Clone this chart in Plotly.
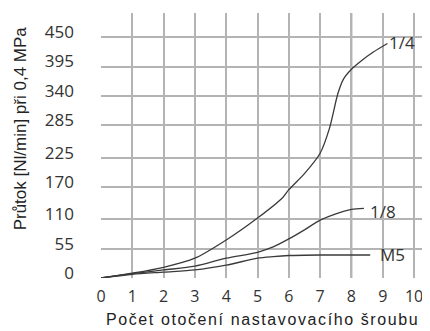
import plotly.graph_objects as go

# --- data ---
x_q14 = [0, 1, 2, 3, 4, 5, 5.8, 6, 6.5, 7, 7.3, 7.57, 7.75, 8, 8.3, 8.7, 9.15]
y_q14 = [0, 9, 20, 37, 71, 112, 150, 165, 195, 233, 280, 345, 372, 390, 405, 422, 438]

x_q18 = [0, 1, 2, 3, 4, 5, 5.5, 6, 6.5, 7, 7.5, 8, 8.4]
y_q18 = [0, 8, 15, 22, 37, 48, 58, 73, 90, 108, 120, 128, 130]

x_m5 = [0, 1, 2, 3, 4, 5, 5.5, 6, 7, 8.6]
y_m5 = [0, 7, 11, 15, 24, 37, 40, 42, 43, 43]

series_names = ["1/4", "1/8", "M5"]
x_ticks = list(range(0, 11))
y_ticks = [0, 55, 110, 170, 225, 285, 340, 395, 450]

x_title = "Počet otočení nastavovacího šroubu"
y_title = "Průtok [Nl/min] při 0,4 MPa"

fig = go.Figure()
for xs, ys, nm in [(x_q14, y_q14, series_names[0]),
                   (x_q18, y_q18, series_names[1]),
                   (x_m5, y_m5, series_names[2])]:
    fig.add_trace(go.Scatter(x=xs, y=ys, mode="lines", name=nm,
                             line=dict(color="#3a3a3a", width=1.3, shape="spline", smoothing=0.8),
                             showlegend=False))

# curve labels
lab_pos = {"1/4": (9.6, 439), "1/8": (9.0, 124), "M5": (9.3, 43)}
for nm in series_names:
    lx, ly = lab_pos[nm]
    fig.add_annotation(x=lx, y=ly, xref="x", yref="y", text=nm, showarrow=False,
                       font=dict(family="Open Sans", size=17, color="#333"))

# darker grid lines
for xv in [3, 8]:
    fig.add_shape(type="line", xref="x", yref="paper", x0=xv, x1=xv, y0=0, y1=1,
                  line=dict(color="#444", width=1.5), layer="below")
fig.add_shape(type="line", xref="paper", yref="y", x0=0, x1=1, y0=340, y1=340,
              line=dict(color="#444", width=1.5), layer="below")

fig.add_annotation(text='<span style="letter-spacing:1.6px">' + x_title + '</span>',
                   xref="paper", yref="paper", x=0.49, y=-0.158,
                   xanchor="center", yanchor="middle", showarrow=False,
                   font=dict(family="Liberation Sans", size=16, color="#222"))
fig.add_annotation(text=y_title, xref="paper", yref="paper", x=-0.246, y=0.565,
                   xanchor="center", yanchor="middle", textangle=-90, showarrow=False,
                   font=dict(family="Liberation Sans", size=17, color="#222"))

fig.update_layout(
    width=422, height=323,
    margin=dict(l=93, r=0, t=5, b=53),
    paper_bgcolor="white", plot_bgcolor="white",
    xaxis=dict(range=[0, 10.51], tickvals=x_ticks, showgrid=True, gridcolor="#b4b4b4",
               gridwidth=1.5, zeroline=False, showline=False, ticks="",
               ticklabelstandoff=7,
               tickfont=dict(family="Open Sans", size=16, color="#333")),
    yaxis=dict(range=[0, 495], tickvals=y_ticks, showgrid=True, gridcolor="#b4b4b4",
               gridwidth=1.5, zeroline=False, showline=False, ticks="",
               ticklabelstandoff=26, ticklabelshift=-5,
               tickfont=dict(family="Open Sans", size=17, color="#333")),
)

fig.write_html("out.html")
